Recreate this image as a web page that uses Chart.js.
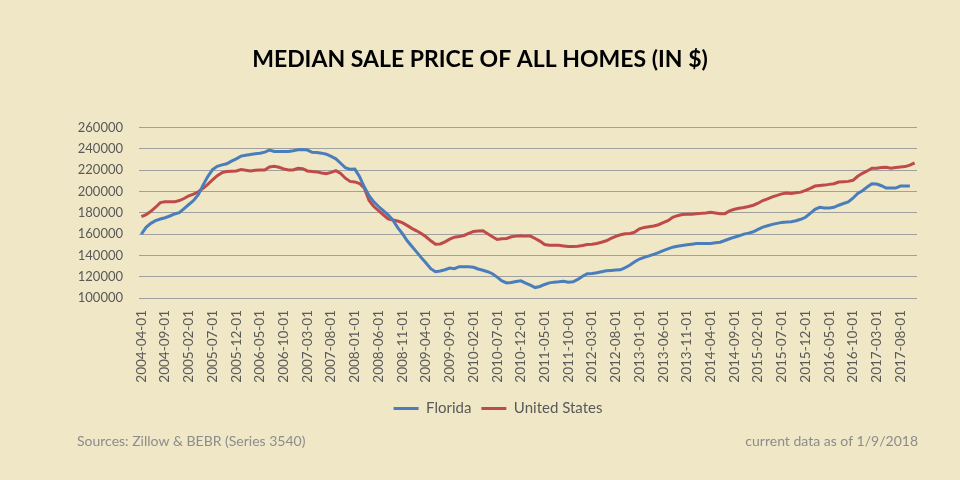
<!DOCTYPE html>
<html>
<head>
<meta charset="utf-8">
<script src="https://cdn.jsdelivr.net/npm/chart.js@4.4.1/dist/chart.umd.min.js"></script>
<style>
  html, body { margin: 0; padding: 0; background: #EFE7C6; }
  #wrap { width: 960px; height: 480px; position: relative; }
</style>
</head>
<body>
<div id="wrap"><canvas id="priceChart" width="960" height="480"></canvas></div>
<script>
// monthly categories 2004-04 .. 2017-11
const firstMonth = { year: 2004, month: 4 };
const monthCount = 164;
const labelEvery = 5;

const yTicks = [100000, 120000, 140000, 160000, 180000, 200000, 220000, 240000, 260000];

const floridaPrices = [
    160000, 166300, 170100, 172600, 174200, 175400, 177000, 178900, 180200, 184000,
    187800, 191500, 197000, 206000, 214000, 220600, 223700, 225000, 226000, 228500,
    230700, 233200, 234000, 234800, 235400, 236000, 237000, 238900, 237600, 237600,
    237600, 237600, 238200, 239200, 239500, 238900, 236800, 236700, 236000, 235000,
    233000, 230700, 226500, 222300, 220800, 221000, 213800, 204200, 196000, 190300,
    185900, 182100, 178000, 173200, 166300, 160600, 154000, 148600, 143300, 137900,
    132900, 127500, 124700, 125300, 126500, 128100, 127500, 129400, 129400, 129400,
    128800, 127200, 126000, 124700, 122800, 119600, 116100, 114200, 114600, 115500,
    116100, 113900, 112000, 109800, 110800, 112700, 114200, 114900, 115200, 115800,
    114900, 115200, 117400, 120500, 122800, 123100, 123700, 124700, 125600, 125900,
    126200, 126500, 128400, 131000, 134100, 136600, 138200, 139500, 141000, 142600,
    144500, 146100, 147700, 148600, 149300, 149900, 150500, 151200, 151200, 151200,
    151200, 151800, 152400, 154000, 155600, 157100, 158400, 160000, 160900, 162200,
    164400, 166600, 167900, 169100, 170100, 171000, 171300, 171700, 172600, 173900,
    175800, 179500, 183300, 185200, 184600, 184600, 185200, 187100, 188700, 190300,
    193700, 198200, 200700, 204200, 207300, 207000, 205400, 203200, 203200, 203200,
    205100, 205100, 205100, null
];

const usPrices = [
    176400, 178300, 181400, 185200, 189600, 190300, 190300, 190300, 191500, 193400,
    196000, 197500, 199700, 203000, 206700, 211000, 214900, 217700, 218700, 219000,
    219300, 220600, 220000, 219300, 220000, 220200, 220200, 223000, 223700, 222800,
    221200, 220200, 220200, 221800, 221500, 219300, 218700, 218400, 217400, 216800,
    218000, 219600, 217000, 212500, 209500, 209000, 207500, 203200, 191500, 185900,
    182100, 178000, 174200, 173200, 172300, 170700, 168200, 165400, 163100, 160600,
    157500, 153700, 150500, 150800, 152700, 155300, 157100, 157800, 158700, 160600,
    162500, 162800, 163100, 160300, 157500, 154900, 155600, 155900, 157500, 158100,
    158400, 158100, 158100, 155900, 153400, 150200, 149600, 149600, 149600, 148900,
    148300, 148300, 148600, 149300, 150200, 150500, 151200, 152400, 153700, 155900,
    157800, 159400, 160300, 160600, 161900, 165000, 166300, 166900, 167600, 168800,
    170700, 172600, 175800, 177300, 178300, 178600, 178600, 179200, 179500, 179900,
    180500, 179900, 179200, 179200, 181800, 183300, 184300, 184900, 185900, 187100,
    189000, 191500, 193100, 195000, 196300, 197800, 198500, 198200, 198800, 199400,
    201000, 202900, 205100, 205700, 206000, 206700, 207300, 208900, 209200, 209500,
    210500, 214300, 217100, 219300, 221800, 221800, 222500, 222800, 221800, 222500,
    223100, 223400, 224700, 226900
];

const sourceNote = 'Sources: Zillow & BEBR (Series 3540)';
const dateNote = 'current data as of 1/9/2018';

// build the "YYYY-MM-01" category labels
const months = [];
for (let i = 0; i < monthCount; i++) {
    const m = firstMonth.month - 1 + i;
    const y = firstMonth.year + Math.floor(m / 12);
    const mm = String(m % 12 + 1).padStart(2, '0');
    months.push(`${y}-${mm}-01`);
}

const textGray = '#595959';

// footer notes under the legend
const footerNotes = {
    id: 'footerNotes',
    afterDraw(chart) {
        const ctx = chart.ctx;
        ctx.save();
        ctx.font = '14px Lato';
        ctx.fillStyle = '#8C8C8C';
        ctx.textBaseline = 'middle';
        ctx.textAlign = 'left';
        ctx.fillText(sourceNote, 77, 441);
        ctx.textAlign = 'right';
        ctx.fillText(dateNote, 918, 441);
        ctx.restore();
    }
};

// the legend in the original sits a little right of centre
const legendNudge = {
    id: 'legendNudge',
    afterLayout(chart) {
        if (chart.legend) chart.legend.left += 36;
    }
};

const ctx = document.getElementById('priceChart').getContext('2d');
new Chart(ctx, {
    type: 'line',
    data: {
        labels: months,
        datasets: [
            {
                label: 'Florida',
                data: floridaPrices,
                borderColor: '#4A7EBB',
                backgroundColor: '#4A7EBB',
                borderWidth: 3,
                pointRadius: 0,
                tension: 0
            },
            {
                label: 'United States',
                data: usPrices,
                borderColor: '#BE4B48',
                backgroundColor: '#BE4B48',
                borderWidth: 3,
                pointRadius: 0,
                tension: 0
            }
        ]
    },
    options: {
        responsive: false,
        animation: false,
        devicePixelRatio: 1,
        layout: { padding: { left: 0, right: 0, top: 0, bottom: 54 } },
        plugins: {
            title: {
                display: true,
                text: 'MEDIAN SALE PRICE OF ALL HOMES (IN $)',
                color: '#000000',
                font: { family: 'Lato', size: 23, weight: 'bold' },
                padding: { top: 46, bottom: 54 }
            },
            legend: {
                position: 'bottom',
                labels: {
                    usePointStyle: true,
                    pointStyle: 'line',
                    pointStyleWidth: 25,
                    padding: 10,
                    color: textGray,
                    font: { family: 'Lato', size: 15 }
                }
            },
            tooltip: { enabled: false }
        },
        scales: {
            x: {
                offset: true,
                grid: { display: false, drawTicks: false },
                border: { display: false },
                afterFit(scale) { scale.height = 93; },
                ticks: {
                    autoSkip: false,
                    minRotation: 90,
                    maxRotation: 90,
                    padding: 12,
                    color: textGray,
                    font: { family: 'Lato', size: 13.5 },
                    callback(value, index) {
                        return index % labelEvery === 0 ? months[index] : '';
                    }
                }
            },
            y: {
                min: yTicks[0],
                max: yTicks[yTicks.length - 1],
                afterFit(scale) { scale.width = 139; },
                afterBuildTicks(scale) {
                    scale.ticks = yTicks.map(v => ({ value: v }));
                },
                grid: { color: '#A0A0A0', lineWidth: 1, drawTicks: false },
                border: { display: false },
                ticks: {
                    padding: 16,
                    color: textGray,
                    font: { family: 'Lato', size: 13 },
                    callback: v => String(v)
                }
            },
            // empty right-hand margin so the plot ends where the reference does
            yRight: {
                position: 'right',
                grid: { display: false, drawTicks: false },
                border: { display: false },
                ticks: { display: false },
                afterFit(scale) { scale.width = 43; }
            }
        }
    },
    plugins: [footerNotes, legendNudge]
});
</script>
</body>
</html>
